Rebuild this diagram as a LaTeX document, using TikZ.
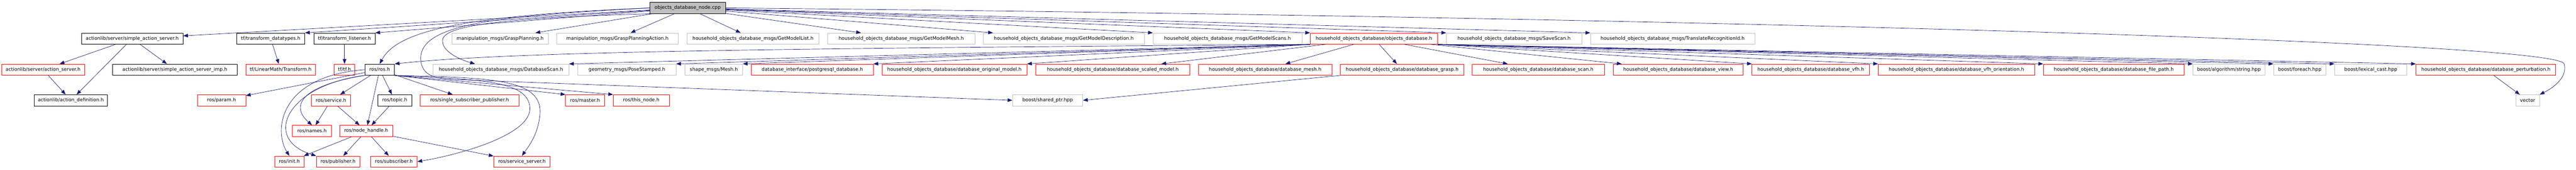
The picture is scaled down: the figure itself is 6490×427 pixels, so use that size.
\documentclass[tikz,border=0pt]{standalone}
\usepackage{fontspec}
\setmainfont{DejaVu Sans}
\usetikzlibrary{arrows.meta}
\definecolor{doxblue}{HTML}{191970}
\definecolor{doxgrey}{HTML}{BFBFBF}

\begin{document}
\begin{tikzpicture}[x=1pt,y=-1pt,
  every node/.style={font=\fontsize{12}{14}\selectfont, inner sep=0pt, minimum height=28pt, fill=white, line width=1pt},
  blackbox/.style={draw=black},
  redbox/.style={draw=red},
  greybox/.style={draw=doxgrey},
  rootbox/.style={draw=black, fill=doxgrey},
  edge/.style={-{Triangle[length=12pt,width=9pt]}, draw=doxblue, line width=0.9pt}]
\useasboundingbox (0,0) rectangle (6490,427);

% the file itself
\node[rootbox, minimum width=191pt] (root) at (1732.5,20) {objects\_database\_node.cpp};

% row 1
\node[blackbox, minimum width=256pt] (sas) at (333,97) {actionlib/server/simple\_action\_server.h};
\node[blackbox, minimum width=172pt] (tfdt) at (682,97) {tf/transform\_datatypes.h};
\node[blackbox, minimum width=154pt] (tfl) at (868,97) {tf/transform\_listener.h};
\node[greybox, minimum width=242pt] (gp) at (1260,97) {manipulation\_msgs/GraspPlanning.h};
\node[greybox, minimum width=307pt] (gpa) at (1555.5,97) {manipulation\_msgs/GraspPlanningAction.h};
\node[greybox, minimum width=332pt] (gml) at (1897,97) {household\_objects\_database\_msgs/GetModelList.h};
\node[greybox, minimum width=371pt] (gmm) at (2270.5,97) {household\_objects\_database\_msgs/GetModelMesh.h};
\node[greybox, minimum width=406pt] (gmd) at (2680,97) {household\_objects\_database\_msgs/GetModelDescription.h};
\node[greybox, minimum width=375pt] (gms) at (3092.5,97) {household\_objects\_database\_msgs/GetModelScans.h};
\node[redbox, minimum width=321pt] (odb) at (3461.5,97) {household\_objects\_database/objects\_database.h};
\node[greybox, minimum width=341pt] (ss) at (3814.5,97) {household\_objects\_database\_msgs/SaveScan.h};
\node[greybox, minimum width=414pt] (tri) at (4214,97) {household\_objects\_database\_msgs/TranslateRecognitionId.h};

% row 2
\node[redbox, minimum width=209pt] (as) at (108.5,175) {actionlib/server/action\_server.h};
\node[blackbox, minimum width=313pt] (sasi) at (440.5,175) {actionlib/server/simple\_action\_server\_imp.h};
\node[redbox, minimum width=176pt] (tft) at (707,175) {tf/LinearMath/Transform.h};
\node[redbox, minimum width=52pt] (tftf) at (868,175) {tf/tf.h};
\node[blackbox, minimum width=75pt] (ros) at (956.5,175) {ros/ros.h};
\node[greybox, minimum width=342pt] (dbs) at (1262,175) {household\_objects\_database\_msgs/DatabaseScan.h};
\node[greybox, minimum width=247pt] (pose) at (1579.5,175) {geometry\_msgs/PoseStamped.h};
\node[greybox, minimum width=145pt] (mesh) at (1798.5,175) {shape\_msgs/Mesh.h};
\node[redbox, minimum width=307pt] (pg) at (2046.5,175) {database\_interface/postgresql\_database.h};
\node[redbox, minimum width=365pt] (dom) at (2404.5,175) {household\_objects\_database/database\_original\_model.h};
\node[redbox, minimum width=387pt] (dsm) at (2803.5,175) {household\_objects\_database/database\_scaled\_model.h};
\node[redbox, minimum width=337pt] (dme) at (3187.5,175) {household\_objects\_database/database\_mesh.h};
\node[redbox, minimum width=311pt] (dgr) at (3532.5,175) {household\_objects\_database/database\_grasp.h};
\node[redbox, minimum width=333pt] (dsc) at (3875.5,175) {household\_objects\_database/database\_scan.h};
\node[redbox, minimum width=328pt] (dvw) at (4228,175) {household\_objects\_database/database\_view.h};
\node[redbox, minimum width=296pt] (dvf) at (4562,175) {household\_objects\_database/database\_vfh.h};
\node[redbox, minimum width=394pt] (dvo) at (4929,175) {household\_objects\_database/database\_vfh\_orientation.h};
\node[redbox, minimum width=355pt] (dfp) at (5325.5,175) {household\_objects\_database/database\_file\_path.h};
\node[greybox, minimum width=181pt] (bas) at (5615.5,175) {boost/algorithm/string.hpp};
\node[greybox, minimum width=132pt] (bfe) at (5794,175) {boost/foreach.hpp};
\node[greybox, minimum width=182pt] (blc) at (5973,175) {boost/lexical\_cast.hpp};
\node[redbox, minimum width=352pt] (dpt) at (6263,175) {household\_objects\_database/database\_perturbation.h};

% row 3
\node[blackbox, minimum width=185pt] (ad) at (178.5,252) {actionlib/action\_definition.h};
\node[redbox, minimum width=122pt] (param) at (558,252) {ros/param.h};
\node[redbox, minimum width=98pt] (srv) at (834,252) {ros/service.h};
\node[blackbox, minimum width=85pt] (topic) at (994.5,252) {ros/topic.h};
\node[redbox, minimum width=248pt] (ssp) at (1183,252) {ros/single\_subscriber\_publisher.h};
\node[redbox, minimum width=98pt] (master) at (1474,252) {ros/master.h};
\node[redbox, minimum width=141pt] (thisn) at (1615.5,252) {ros/this\_node.h};
\node[greybox, minimum width=177pt] (bsp) at (2639.5,252) {boost/shared\_ptr.hpp};
\node[greybox, minimum width=60pt] (vec) at (6368,252) {vector};

% row 4 and 5
\node[redbox, minimum width=98pt] (names) at (786,329) {ros/names.h};
\node[redbox, minimum width=133pt] (nh) at (922.5,329) {ros/node\_handle.h};
\node[redbox, minimum width=74pt] (init) at (729,406) {ros/init.h};
\node[redbox, minimum width=109pt] (pub) at (851.5,406) {ros/publisher.h};
\node[redbox, minimum width=117pt] (sub) at (992.5,406) {ros/subscriber.h};
\node[redbox, minimum width=142pt] (ssrv) at (1315,406) {ros/service\_server.h};

% root includes
\draw[edge] (root) -- (sas);
\draw[edge] (root) -- (tfdt.north east);
\draw[edge] (root) -- (tfl.north east);
\foreach \n in {gp,gpa,gml,gmm,gmd}
  \draw[edge] (root) -- (\n);
\foreach \n in {gms,odb,ss,tri}
  \draw[edge] (root) -- (\n.north west);
\draw[edge] (root.west) .. controls (1150,40) and (1000,80) .. (ros.north);
\draw[edge] (root.south west) .. controls (1300,45) and (1120,60) .. (1115,100) .. controls (1112,130) and (1160,150) .. ([xshift=106pt]dbs.north west);
\draw[edge] (root.west) .. controls (1250,40) and (1055,60) .. (1060,150) .. controls (1063,185) and (1085,198) .. (1150,200) -- (bsp.west);
\draw[edge] (root.east) .. controls (4000,40) and (6430,100) .. (6460,160) .. controls (6470,195) and (6430,222) .. (vec.north east);

% objects_database.h includes
\draw[edge] (odb.south west) .. controls (2000,122) and (1300,128) .. (ros.north east);
\foreach \n in {dbs,pose,mesh,pg,dom}
  \draw[edge] (odb.south west) -- (\n.north east);
\foreach \n in {dsm,dme,dgr,dsc,dvw}
  \draw[edge] (odb) -- (\n);
\foreach \n in {dvf,dvo,dfp,bas,bfe,blc,dpt}
  \draw[edge] (odb.south east) -- (\n.north west);
\draw[edge] (dgr.south west) -- (bsp.east);
\draw[edge] (dpt) -- (vec);

% actionlib and tf
\draw[edge] (sas) -- (as);
\draw[edge] (sas) -- (ad);
\draw[edge] (sas) -- (sasi);
\draw[edge] (as) -- (ad);
\draw[edge] (tfdt) -- (tft);
\draw[edge] (tfl) -- (tftf);

% ros/ros.h includes
\foreach \n in {param,srv,topic,ssp,nh}
  \draw[edge] (ros) -- (\n);
\draw[edge] (ros.south east) -- (master.north west);
\draw[edge] (ros.south east) -- (thisn.north west);
\draw[edge] (ros.south west) .. controls (760,215) and (730,265) .. (names.north);
\draw[edge] (ros.west) .. controls (700,192) and (690,330) .. (init.north);
\draw[edge] (ros.south west) .. controls (720,215) and (660,350) .. (pub.north west);
\draw[edge] (ros.south east) .. controls (1200,200) and (1330,200) .. (1335,270) .. controls (1340,340) and (1150,390) .. (sub.east);
\draw[edge] (ros.south east) .. controls (1250,195) and (1370,200) .. (1360,290) .. controls (1355,340) and (1330,370) .. (ssrv.north);

% service, topic, node_handle
\draw[edge] (srv) -- (names);
\draw[edge] (srv) -- (nh);
\draw[edge] (topic) -- (nh);
\foreach \n in {init,pub,sub,ssrv}
  \draw[edge] (nh) -- (\n);
\end{tikzpicture}
\end{document}
